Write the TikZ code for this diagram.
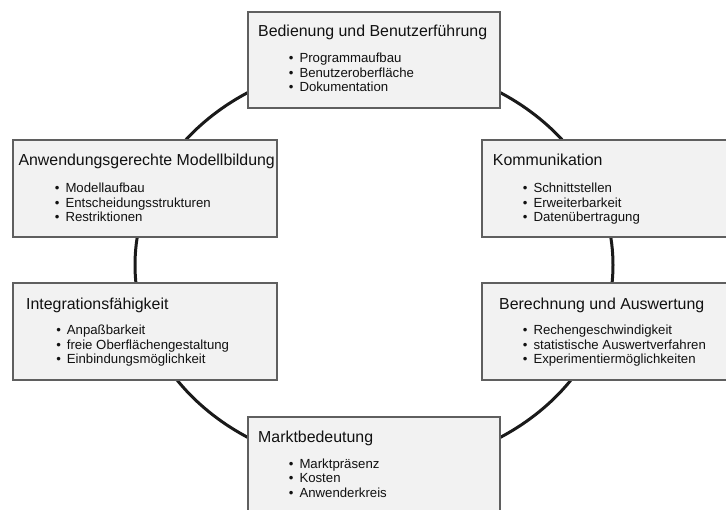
\documentclass[tikz,border=0pt]{standalone}
\usepackage{fontspec}
\setmainfont{Liberation Sans}
\definecolor{panelfill}{HTML}{F2F2F2}
\definecolor{boxgray}{HTML}{5F5F5F}
\definecolor{ringcol}{HTML}{1A1A1A}
\definecolor{txt}{HTML}{111111}
\newcommand{\bitem}[4]{%
  \node[itm] (#1) at (#2,#3) {#4};
  \node[itm] (#1b) at (#2-10.6,#3) {\textbullet};}
\begin{document}
\begin{tikzpicture}[x=1pt,y=-1pt,
  panel/.style={draw=boxgray, line width=1.3pt, fill=panelfill, inner sep=0pt, outer sep=0pt},
  ttl/.style={inner sep=0pt, anchor=base west, font=\fontsize{15.9}{19}\selectfont, text=txt},
  itm/.style={inner sep=0pt, anchor=base west, font=\fontsize{13.2}{15}\selectfont, text=txt},
  ring/.style={draw=ringcol, line width=3pt}]
\useasboundingbox (0,0) rectangle (726,510);
% ring behind the panels
\draw[ring] (374,265) ellipse [x radius=239, y radius=203];
% panels
\node[panel, minimum width=252pt, minimum height=96pt] (top) at (374,60) {};
\node[panel, minimum width=264pt, minimum height=97pt] (lm) at (145,188.5) {};
\node[panel, minimum width=248pt, minimum height=97pt] (rm) at (606,188.5) {};
\node[panel, minimum width=264pt, minimum height=97pt] (ll) at (145,331.5) {};
\node[panel, minimum width=248pt, minimum height=97pt] (lr) at (606,331.5) {};
\node[panel, minimum width=252pt, minimum height=103pt] (bot) at (374,468.5) {};
% top
\node[ttl] (t1) at (258,37) {Bedienung und Benutzerführung};
\bitem{t1a}{299.3}{62.7}{Programmaufbau}
\bitem{t1b}{299.3}{77.2}{Benutzeroberfläche}
\bitem{t1c}{299.3}{91.7}{Dokumentation}
% left middle
\node[ttl] (t2) at (18.3,166) {Anwendungsgerechte Modellbildung};
\bitem{t2a}{65.3}{193}{Modellaufbau}
\bitem{t2b}{65.3}{207.5}{Entscheidungsstrukturen}
\bitem{t2c}{65.3}{222}{Restriktionen}
% right middle
\node[ttl] (t3) at (492.7,166) {Kommunikation};
\bitem{t3a}{533.3}{192.7}{Schnittstellen}
\bitem{t3b}{533.3}{207.2}{Erweiterbarkeit}
\bitem{t3c}{533.3}{221.7}{Datenübertragung}
% lower left
\node[ttl] (t4) at (26,309.3) {Integrationsfähigkeit};
\bitem{t4a}{66.7}{335}{Anpaßbarkeit}
\bitem{t4b}{66.7}{349.3}{freie Oberflächengestaltung}
\bitem{t4c}{66.7}{363.6}{Einbindungsmöglichkeit}
% lower right
\node[ttl] (t5) at (499,309.3) {Berechnung und Auswertung};
\bitem{t5a}{533.3}{335}{Rechengeschwindigkeit}
\bitem{t5b}{533.3}{349.3}{statistische Auswertverfahren}
\bitem{t5c}{533.3}{363.6}{Experimentiermöglichkeiten}
% bottom
\node[ttl] (t6) at (258,442.7) {Marktbedeutung};
\bitem{t6a}{299.3}{468.3}{Marktpräsenz}
\bitem{t6b}{299.3}{483}{Kosten}
\bitem{t6c}{299.3}{497.7}{Anwenderkreis}
\end{tikzpicture}
\end{document}
